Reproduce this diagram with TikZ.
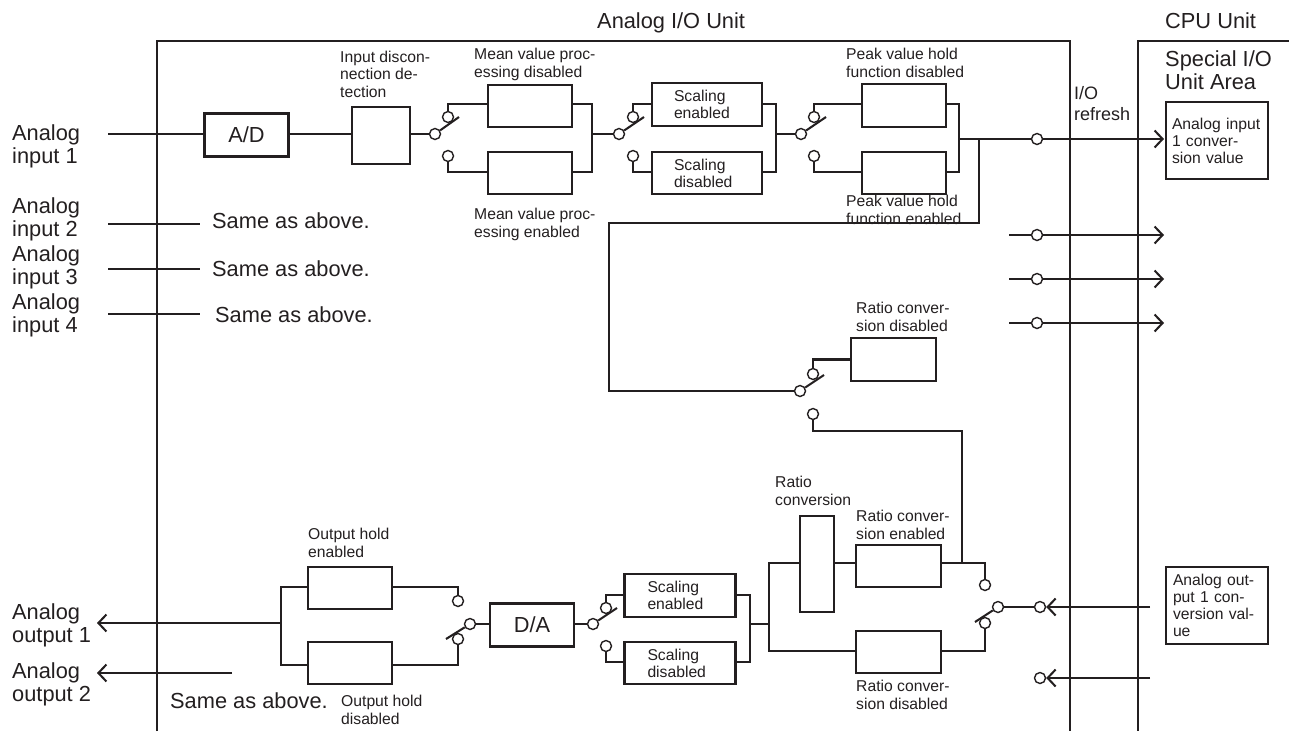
\documentclass[tikz,border=0pt]{standalone}
\usepackage{fontspec}
\setmainfont{Liberation Sans}
\usetikzlibrary{arrows.meta}
\definecolor{ink}{HTML}{231F20}
\tikzset{
    blk/.style 2 args={rectangle, draw, line width=2.05pt, inner sep=0pt, minimum width=#1pt, minimum height=#2pt},
    bigblk/.style={blk={84}{43}, font=\fontsize{21.8}{23}\selectfont},
    txtblk/.style n args={4}{blk={#1}{#2}, align=left, inner xsep=#3pt, text width=#4pt, font=\fontsize{15.7}{17}\selectfont},
    contact/.style={circle, draw, fill=white, line width=1.4pt, inner sep=0pt, minimum size=11pt},
    small/.style={anchor=base west, inner sep=0pt, align=left, font=\fontsize{15.7}{17.3}\selectfont},
    medium/.style={anchor=base west, inner sep=0pt, align=left, font=\fontsize{18}{21}\selectfont},
    large/.style={anchor=base west, inner sep=0pt, align=left, font=\fontsize{21.8}{22.5}\selectfont},
    wire/.style={line width=2.05pt},
    sendline/.style={wire, -{Straight Barb[length=8pt, width=17pt, line width=2.05pt]}},
}
\begin{document}
\begin{tikzpicture}[x=1pt, y=-1pt, color=ink, text=ink]
    \useasboundingbox (0,0) rectangle (1289,731);
    % frames of the two units
    \draw[wire] (157,731) |- (1070,41) -- (1070,731);
    \draw[wire] (1289,41) -| (1138,731);
    \node[large] (iounit) at (597,28) {Analog I/O Unit};
    \node[large] (cpuunit) at (1165,28) {CPU Unit};
    \node[large] (area) at (1165,89) {Special I/O\\Unit Area};
    \node[medium] (refresh) at (1074,120) {I/O\\refresh};

    % left hand labels
    \node[large] (ain1) at (12,163) {Analog\\input 1};
    \node[large] (ain2) at (12,236) {Analog\\input 2};
    \node[large] (ain3) at (12,284) {Analog\\input 3};
    \node[large] (ain4) at (12,332) {Analog\\input 4};
    \node[large] (aout1) at (12,642) {Analog\\output 1};
    \node[large] (aout2) at (12,701) {Analog\\output 2};
    \node[large] (same1) at (212,228) {Same as above.};
    \node[large] (same2) at (212,276) {Same as above.};
    \node[large] (same3) at (215,322) {Same as above.};
    \node[large] (same4) at (170,708) {Same as above.};

    % captions
    \node[small] (capin) at (340,97) {Input discon-\\nection de-\\tection};
    \node[small] (capm1) at (474,77) {Mean value proc-\\essing disabled};
    \node[small] (capm2) at (474,237) {Mean value proc-\\essing enabled};
    \node[small] (capp1) at (846,77) {Peak value hold\\function disabled};
    \node[small] (capp2) at (846,224) {Peak value hold\\function enabled};
    \node[small] (capr1) at (856,331) {Ratio conver-\\sion disabled};
    \node[small] (capr2) at (775,505) {Ratio\\conversion};
    \node[small] (capr3) at (856,539) {Ratio conver-\\sion enabled};
    \node[small] (capr4) at (856,709) {Ratio conver-\\sion disabled};
    \node[small] (caph1) at (308,557) {Output hold\\enabled};
    \node[small] (caph2) at (341,724) {Output hold\\disabled};

    % input chain
    \node[bigblk] (ad) at (246.5,135) {A/D};
    \node[blk={58}{57}] (indet) at (381,135.5) {};
    \node[blk={84}{42}] (mean1) at (530,106) {};
    \node[blk={84}{42}] (mean2) at (530,173) {};
    \node[txtblk={110}{43}{22}{66}] (scal1) at (707,104.5) {Scaling\\enabled};
    \node[txtblk={110}{42}{22}{66}] (scal2) at (707,173) {Scaling\\disabled};
    \node[blk={84}{43}] (peak1) at (904,105.5) {};
    \node[blk={84}{42}] (peak2) at (904,173) {};
    \node[txtblk={102}{77}{6}{90}] (invalue) at (1217,140.5) {Analog input\\1 conver-\\sion value};

    \node[contact] (sw1c) at (435,134) {};
    \node[contact] (sw1u) at (448,117) {};
    \node[contact] (sw1d) at (448,156) {};
    \node[contact] (sw2c) at (619,134) {};
    \node[contact] (sw2u) at (633,117) {};
    \node[contact] (sw2d) at (633,156) {};
    \node[contact] (sw3c) at (801,134) {};
    \node[contact] (sw3u) at (814,117) {};
    \node[contact] (sw3d) at (814,156) {};
    \node[contact] (ref1) at (1037,139) {};

    \coordinate (ain1end) at (108,134);
    \coordinate (sw1t) at (459,117);
    \coordinate (sw2t) at (644,117);
    \coordinate (sw3t) at (826,117);
    \coordinate (bus1) at (592,134);
    \coordinate (bus2) at (776,134);
    \coordinate (bus3) at (959,139);
    \coordinate (tap) at (979,139);
    \coordinate (ret) at (609,223);
    \coordinate (out1) at (1164,139);

    \draw[wire] (ain1end) -- ([yshift=1pt]ad.west);
    \draw[wire] ([yshift=1pt]ad.east) -- ([yshift=1.5pt]indet.west);
    \draw[wire] ([yshift=1.5pt]indet.east) -- (sw1c);
    \draw[wire] (sw1c) -- (sw1t);
    \draw[wire] (sw1u) |- ([yshift=2pt]mean1.west);
    \draw[wire] (sw1d) |- ([yshift=1pt]mean2.west);
    \draw[wire] ([yshift=2pt]mean1.east) -| (bus1) |- ([yshift=1pt]mean2.east);
    \draw[wire] (bus1) -- (sw2c);
    \draw[wire] (sw2c) -- (sw2t);
    \draw[wire] (sw2u) |- ([yshift=0.5pt]scal1.west);
    \draw[wire] (sw2d) |- ([yshift=1pt]scal2.west);
    \draw[wire] ([yshift=0.5pt]scal1.east) -| (bus2) |- ([yshift=1pt]scal2.east);
    \draw[wire] (bus2) -- (sw3c);
    \draw[wire] (sw3c) -- (sw3t);
    \draw[wire] (sw3u) |- ([yshift=1.5pt]peak1.west);
    \draw[wire] (sw3d) |- ([yshift=1pt]peak2.west);
    \draw[wire] ([yshift=1.5pt]peak1.east) -| (bus3) |- ([yshift=1pt]peak2.east);
    \draw[wire] (bus3) -- (ref1);
    \draw[sendline] (ref1) -- (out1);

    % the other inputs
    \foreach \k/\ly in {2/224, 3/269, 4/314} {
        \coordinate (in\k a) at (108,\ly);
        \coordinate (in\k b) at (200,\ly);
        \draw[wire] (in\k a) -- (in\k b);
    }
    \foreach \k/\ly in {2/235, 3/279, 4/323} {
        \coordinate (ref\k a) at (1009,\ly);
        \coordinate (ref\k b) at (1164,\ly);
        \node[contact] (ref\k) at (1037,\ly) {};
        \draw[wire] (ref\k a) -- (ref\k);
        \draw[sendline] (ref\k) -- (ref\k b);
    }

    % ratio switch in the middle
    \node[blk={85}{43}] (ratdis1) at (893.5,359.5) {};
    \node[contact] (sw4c) at (800,391) {};
    \node[contact] (sw4u) at (813,374) {};
    \node[contact] (sw4d) at (813,414) {};
    \coordinate (sw4t) at (824,375);
    \coordinate (elbow) at (962,431);
    \coordinate (join) at (962,563);

    \draw[wire] (tap) |- (ret) |- (sw4c);
    \draw[wire] (sw4c) -- (sw4t);
    \draw[wire] (sw4u) |- (ratdis1.west);
    \draw[wire] (sw4d) |- (elbow) -- (join);

    % output chain
    \node[blk={34}{96}] (ratio) at (817,564) {};
    \node[blk={85}{42}] (raten) at (898.5,566) {};
    \node[blk={85}{42}] (ratdis2) at (898.5,652) {};
    \node[txtblk={110}{43}{23}{65}] (scal3) at (680,595.5) {Scaling\\enabled};
    \node[txtblk={110}{42}{23}{65}] (scal4) at (680,663) {Scaling\\disabled};
    \node[bigblk] (da) at (532,625) {D/A};
    \node[blk={84}{42}] (hold1) at (350,588) {};
    \node[blk={84}{42}] (hold2) at (350,663) {};
    \node[txtblk={102}{77}{7}{88}] (outvalue) at (1217,605.5) {Analog out-\\put 1 con-\\version val-\\ue};

    \node[contact] (sw5c) at (998,607) {};
    \node[contact] (sw5u) at (985,585) {};
    \node[contact] (sw5d) at (985,623) {};
    \node[contact] (cin1) at (1040,607) {};
    \node[contact] (cin2) at (1040,678) {};
    \node[contact] (sw6c) at (593,624) {};
    \node[contact] (sw6u) at (606,608) {};
    \node[contact] (sw6d) at (606,646) {};
    \node[contact] (sw7c) at (470,624) {};
    \node[contact] (sw7u) at (458,601) {};
    \node[contact] (sw7d) at (458,639) {};

    \coordinate (sw5t) at (975,622);
    \coordinate (sw6t) at (617,608);
    \coordinate (sw7t) at (446,639);
    \coordinate (bus4) at (769,624);
    \coordinate (bus5) at (750,624);
    \coordinate (bus6) at (281,623);
    \coordinate (feed1) at (1150,607);
    \coordinate (feed2) at (1150,678);
    \coordinate (aout1tip) at (97,623);
    \coordinate (aout2tip) at (97,673);
    \coordinate (aout2end) at (232,673);
    \coordinate (top5) at (985,563);

    \draw[sendline] (feed1) -- (cin1);
    \draw[sendline] (feed2) -- (cin2);
    \draw[wire] (cin1) -- (sw5c);
    \draw[wire] (sw5c) -- (sw5t);
    \draw[wire] (sw5u) -- (top5) -- ([yshift=3pt]raten.east);
    \draw[wire] (sw5d) |- ([yshift=1pt]ratdis2.east);
    \draw[wire] ([yshift=3pt]raten.west) -- ([yshift=1pt]ratio.east);
    \draw[wire] ([yshift=1pt]ratio.west) -| (bus4) |- ([yshift=1pt]ratdis2.west);
    \draw[wire] (bus5) -- (bus4);
    \draw[wire] ([yshift=0.5pt]scal3.east) -| (bus5) |- ([yshift=1pt]scal4.east);
    \draw[wire] (sw6u) |- ([yshift=0.5pt]scal3.west);
    \draw[wire] (sw6d) |- ([yshift=1pt]scal4.west);
    \draw[wire] (sw6c) -- (sw6t);
    \draw[wire] ([yshift=1pt]da.east) -- (sw6c);
    \draw[wire] (sw7c) -- ([yshift=1pt]da.west);
    \draw[wire] (sw7c) -- (sw7t);
    \draw[wire] (sw7u) |- ([yshift=1pt]hold1.east);
    \draw[wire] (sw7d) |- ([yshift=-2pt]hold2.east);
    \draw[wire] ([yshift=1pt]hold1.west) -| (bus6) |- ([yshift=-2pt]hold2.west);
    \draw[sendline] (bus6) -- (aout1tip);
    \draw[sendline] (aout2end) -- (aout2tip);
\end{tikzpicture}
\end{document}
